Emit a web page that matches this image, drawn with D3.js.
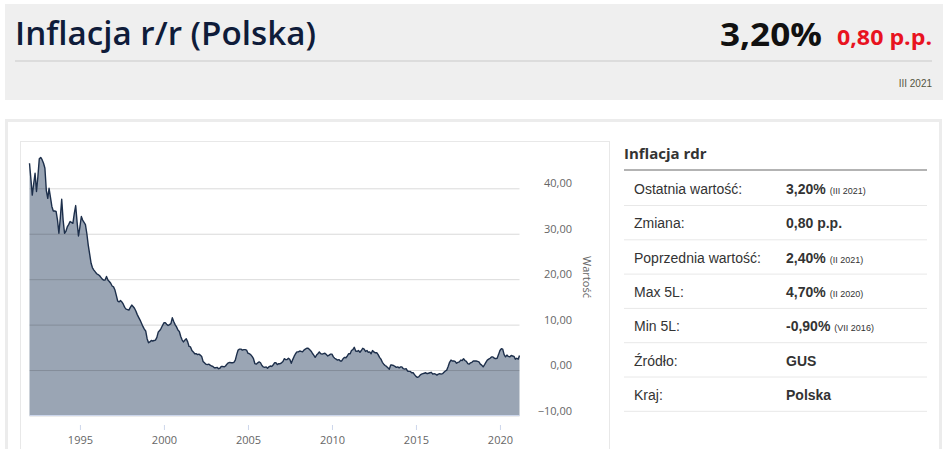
<!DOCTYPE html>
<html>
<head>
<meta charset="utf-8">
<script src="https://cdn.jsdelivr.net/npm/d3@7/dist/d3.min.js"></script>
<style>
  html, body { margin: 0; padding: 0; background: #ffffff; }
  svg { display: block; }
</style>
</head>
<body>
<svg id="chart" width="948" height="449"></svg>
<script>
// ---------------- DATA ----------------
const titleText = "Inflacja r/r (Polska)";
const lastValueText = "3,20%";
const changeText = "0,80 p.p.";
const periodText = "III 2021";

const seriesStart = [1992, 0]; // January 1992, monthly observations
// CPI y/y, % (monthly, Jan 1992 – Mar 2021)
const cpi1992_1996 = [
  45.5, 42.0, 38.5, 41.0, 43.3, 39.3, 42.5, 46.5, 46.8, 46.3, 45.5, 44.4,
  39.5, 37.8, 40.0, 38.0, 36.0, 35.0, 35.0, 34.9, 33.0, 30.1, 33.5, 37.6,
  33.0, 30.1, 30.5, 31.5, 32.0, 32.7, 32.5, 32.3, 34.5, 36.2, 32.5, 29.5,
  31.5, 33.8, 33.0, 32.5, 32.0, 30.0, 27.5, 25.5, 23.5, 22.5, 22.0, 21.6,
  21.2, 21.0, 20.8, 20.4, 20.0, 19.8, 19.8, 20.6, 19.8, 19.5, 19.1, 18.5
];
const cpi1997_2001 = [
  18.3, 17.6, 16.5, 15.2, 15.0, 15.3, 15.0, 14.5, 13.8, 13.4, 13.3, 13.2,
  13.8, 14.3, 14.0, 13.6, 13.0, 12.2, 11.6, 11.0, 10.3, 9.6, 9.0, 8.6,
  6.9, 6.0, 6.2, 6.5, 6.4, 6.5, 6.6, 7.2, 8.4, 8.7, 9.2, 9.8,
  10.4, 10.4, 10.1, 9.8, 10.0, 10.2, 11.5, 10.7, 10.0, 9.5, 8.8, 8.5,
  7.4, 6.6, 6.2, 6.6, 6.9, 6.2, 5.2, 5.1, 4.3, 4.0, 3.6, 3.6
];
const cpi2002_2006 = [
  3.4, 3.5, 3.3, 3.0, 1.9, 1.6, 1.3, 1.2, 1.3, 1.1, 0.9, 0.8,
  0.5, 0.5, 0.6, 0.3, 0.4, 0.8, 0.8, 0.7, 0.9, 1.3, 1.6, 1.7,
  1.6, 1.6, 1.7, 2.2, 3.4, 4.4, 4.6, 4.6, 4.4, 4.5, 4.5, 4.4,
  3.7, 3.6, 3.4, 3.0, 2.5, 1.4, 1.3, 1.6, 1.8, 1.6, 1.0, 0.7,
  0.6, 0.7, 0.4, 0.7, 0.9, 0.8, 1.1, 1.6, 1.6, 1.2, 1.4, 1.4
];
const cpi2007_2011 = [
  1.6, 1.9, 2.5, 2.3, 2.3, 2.6, 2.3, 1.5, 2.3, 3.0, 3.6, 4.0,
  4.0, 4.2, 4.1, 4.0, 4.4, 4.6, 4.8, 4.8, 4.5, 4.2, 3.7, 3.3,
  2.8, 3.3, 3.6, 4.0, 3.6, 3.5, 3.6, 3.7, 3.4, 3.1, 3.3, 3.5,
  3.5, 2.9, 2.6, 2.4, 2.2, 2.3, 2.0, 2.0, 2.5, 2.8, 2.7, 3.1,
  3.6, 3.6, 4.3, 4.5, 5.0, 4.2, 4.1, 4.3, 3.9, 4.3, 4.8, 4.6
];
const cpi2012_2016 = [
  4.1, 4.3, 3.9, 4.0, 3.6, 4.3, 4.0, 3.8, 3.8, 3.4, 2.8, 2.4,
  1.7, 1.3, 1.0, 0.8, 0.5, 0.2, 1.1, 1.1, 1.0, 0.8, 0.6, 0.7,
  0.5, 0.7, 0.7, 0.3, 0.2, 0.3, -0.2, -0.3, -0.3, -0.6, -0.6, -1.0,
  -1.4, -1.6, -1.5, -1.1, -0.9, -0.8, -0.7, -0.6, -0.8, -0.7, -0.6, -0.5,
  -0.9, -0.8, -0.9, -1.1, -0.9, -0.8, -0.9, -0.8, -0.5, -0.2, 0.0, 0.8
];
const cpi2017_2021 = [
  1.7, 2.2, 2.0, 2.0, 1.9, 1.5, 1.7, 1.8, 2.2, 2.1, 2.5, 2.1,
  1.9, 1.4, 1.3, 1.6, 1.7, 2.0, 2.0, 2.0, 1.9, 1.8, 1.3, 1.1,
  0.7, 1.2, 1.7, 2.2, 2.4, 2.6, 2.9, 2.9, 2.6, 2.5, 2.6, 3.4,
  4.3, 4.7, 4.6, 3.4, 2.9, 3.3, 3.0, 2.9, 3.2, 3.1, 3.0, 2.4,
  2.6, 2.4, 3.2
];

const yTicks = [40, 30, 20, 10, 0, -10];
const xTickYears = [1995, 2000, 2005, 2010, 2015, 2020];
const yAxisTitle = "Wartość";

const panelTitle = "Inflacja rdr";
const tableLabels = ["Ostatnia wartość:", "Zmiana:", "Poprzednia wartość:", "Max 5L:", "Min 5L:", "Źródło:", "Kraj:"];
const tableValues = ["3,20%", "0,80 p.p.", "2,40%", "4,70%", "-0,90%", "GUS", "Polska"];
const tableNotes  = ["(III 2021)", "", "(II 2021)", "(II 2020)", "(VII 2016)", "", ""];

// ---------------- BUILD ----------------
const values = [].concat(cpi1992_1996, cpi1997_2001, cpi2002_2006, cpi2007_2011, cpi2012_2016, cpi2017_2021);
const data = values.map((v, i) => ({ date: new Date(seriesStart[0], seriesStart[1] + i, 1), value: v }));

const svg = d3.select("#chart");
const fmt = d => d3.format(".2f")(d).replace(".", ",").replace("-", "\u2212");

// header box
svg.append("rect").attr("x", 5).attr("y", 4).attr("width", 938).attr("height", 96).attr("fill", "#efefef");
svg.append("text").attr("x", 15).attr("y", 45)
  .attr("font-family", "'Open Sans', 'Noto Sans', sans-serif").attr("font-weight", 600)
  .attr("font-size", 32).attr("fill", "#0f1c3a")
  .attr("textLength", 301).attr("lengthAdjust", "spacingAndGlyphs").text(titleText);
svg.append("text").attr("x", 720).attr("y", 46)
  .attr("font-family", "'Open Sans', 'Noto Sans', sans-serif").attr("font-weight", 700)
  .attr("font-size", 33).attr("fill", "#111111")
  .attr("textLength", 102).attr("lengthAdjust", "spacingAndGlyphs").text(lastValueText);
svg.append("text").attr("x", 837).attr("y", 45)
  .attr("font-family", "'Open Sans', 'Noto Sans', sans-serif").attr("font-weight", 700)
  .attr("font-size", 21).attr("fill", "#e8131f")
  .attr("textLength", 95).attr("lengthAdjust", "spacingAndGlyphs").text(changeText);
svg.append("line").attr("x1", 15).attr("x2", 932).attr("y1", 61).attr("y2", 61)
  .attr("stroke", "#dcdcdc").attr("stroke-width", 2);
svg.append("text").attr("x", 932).attr("y", 87).attr("text-anchor", "end")
  .attr("font-family", "'Liberation Sans', Arial, sans-serif").attr("font-size", 10)
  .attr("fill", "#55553f").text(periodText);

// card frame
svg.append("rect").attr("x", 6.5).attr("y", 120.5).attr("width", 934).attr("height", 360)
  .attr("fill", "#ffffff").attr("stroke", "#ececec").attr("stroke-width", 3);
svg.append("rect").attr("x", 20.5).attr("y", 141.5).attr("width", 589).attr("height", 340)
  .attr("fill", "#ffffff").attr("stroke", "#e8e8e8").attr("stroke-width", 1);

// scales
const x = d3.scaleTime()
  .domain([data[0].date, data[data.length - 1].date])
  .range([29.5, 519.5]);
const y = d3.scaleLinear().domain([-10, 40]).range([415.5, 188.3]);

// area + line
const area = d3.area().x(d => x(d.date)).y0(y(-10)).y1(d => y(d.value)).curve(d3.curveLinear);
const line = d3.line().x(d => x(d.date)).y(d => y(d.value)).curve(d3.curveLinear);

svg.append("path").datum(data).attr("d", area).attr("fill", "#9aa5b4");

// gridlines drawn over with translucent stroke
const yAxis = d3.axisRight(y).tickValues(yTicks).tickSize(490).tickFormat(fmt);
const yAxisG = svg.append("g").attr("transform", "translate(29.5,0)").call(yAxis);
yAxisG.select(".domain").remove();
yAxisG.selectAll(".tick line").attr("stroke", "rgba(0,0,0,0.15)").attr("stroke-width", 1);
yAxisG.selectAll(".tick text")
  .attr("x", 542.5).attr("y", -5).attr("text-anchor", "end").attr("dy", "0.32em")
  .attr("font-family", "'Open Sans', 'Noto Sans', sans-serif").attr("font-size", 11)
  .attr("fill", "#666666");

svg.append("path").datum(data).attr("d", line)
  .attr("fill", "none").attr("stroke", "#1d2f4b").attr("stroke-width", 1.4)
  .attr("stroke-linejoin", "round");

// x axis
const xAxis = d3.axisBottom(x)
  .tickValues(xTickYears.map(yr => new Date(yr, 0, 1)))
  .tickFormat(d3.timeFormat("%Y")).tickSize(5).tickPadding(6);
const xAxisG = svg.append("g").attr("transform", "translate(0,425)").call(xAxis);
xAxisG.select(".domain").remove();
xAxisG.selectAll(".tick line").attr("stroke", "#ccd6eb");
xAxisG.selectAll(".tick text")
  .attr("font-family", "'Open Sans', 'Noto Sans', sans-serif").attr("font-size", 11)
  .attr("fill", "#666666");
svg.append("line").attr("x1", 29.5).attr("x2", 519.5).attr("y1", 415.5).attr("y2", 415.5)
  .attr("stroke", "#ccd6eb").attr("stroke-width", 1);

// y axis title
svg.append("text")
  .attr("transform", "translate(583,277) rotate(90)")
  .attr("text-anchor", "middle")
  .attr("font-family", "'Open Sans', 'Noto Sans', sans-serif").attr("font-size", 11)
  .attr("fill", "#666666").text(yAxisTitle);

// side panel
svg.append("text").attr("x", 624).attr("y", 159)
  .attr("font-family", "'Open Sans', 'Noto Sans', sans-serif").attr("font-weight", 700)
  .attr("font-size", 15).attr("fill", "#333333").text(panelTitle);
svg.append("line").attr("x1", 624).attr("x2", 927).attr("y1", 170).attr("y2", 170)
  .attr("stroke", "#9a9a9a").attr("stroke-width", 1.5);

const rowStep = 34.3;
const rows = svg.append("g").selectAll("g").data(tableLabels).join("g")
  .attr("transform", (d, i) => `translate(0,${i * rowStep})`);
rows.append("text").attr("x", 634).attr("y", 194)
  .attr("font-family", "'Liberation Sans', Arial, sans-serif").attr("font-size", 14)
  .attr("fill", "#333333").text(d => d);
const vt = rows.append("text").attr("x", 786).attr("y", 194)
  .attr("font-family", "'Liberation Sans', Arial, sans-serif").attr("fill", "#333333");
vt.append("tspan").attr("font-weight", 700).attr("font-size", 14).text((d, i) => tableValues[i]);
vt.append("tspan").attr("font-size", 9).attr("dx", 4).text((d, i) => tableNotes[i]);
rows.append("line").attr("x1", 624).attr("x2", 927).attr("y1", 205.5).attr("y2", 205.5)
  .attr("stroke", "#e8e8e8").attr("stroke-width", 1);
</script>
</body>
</html>
